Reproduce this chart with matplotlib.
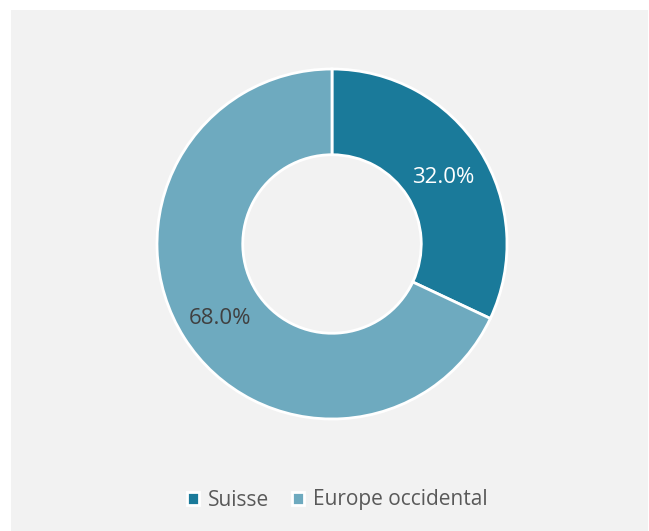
import matplotlib.pyplot as plt
import matplotlib.transforms as mtransforms
from matplotlib.patches import Rectangle

labels = ["Suisse", "Europe occidental"]
values = [32.0, 68.0]
colors = ["#1a7a9a", "#6eaabf"]
pct_colors = ["white", "#404040"]

W, H = 649, 531
fig = plt.figure(figsize=(W / 100, H / 100), dpi=100)
fig.patch.set_facecolor("white")
# panel gris
fig.patches.append(Rectangle((11 / W, 0), (W - 12) / W, (H - 10) / H,
                             transform=fig.transFigure, facecolor="#f2f2f2",
                             edgecolor="none", zorder=-10))

cx, cy, r = 332, 244, 175
ax = fig.add_axes([(cx - r) / W, (H - cy - r) / H, 2 * r / W, 2 * r / H])
ax.set_facecolor("none")
ax.set_zorder(2)

wedges, texts, autotexts = ax.pie(
    values, colors=colors, startangle=90, counterclock=False, radius=1,
    autopct="%.1f%%", pctdistance=0.755,
    wedgeprops=dict(width=0.49, edgecolor="white", linewidth=2),
    textprops=dict(fontsize=16, family="Open Sans"))
shift = mtransforms.ScaledTranslation(0, -4 / 100, fig.dpi_scale_trans)
for t, c in zip(autotexts, pct_colors):
    t.set_color(c)
    t.set_transform(t.get_transform() + shift)
ax.set_xlim(-1, 1)
ax.set_ylim(-1, 1)
ax.set_aspect("equal")

leg = fig.legend(wedges, labels, loc="center", bbox_to_anchor=(337 / W, 1 - 500 / H),
                 ncol=2, frameon=False, handlelength=0.6, handleheight=0.6,
                 handletextpad=0.4, columnspacing=1.1,
                 prop=dict(family="Open Sans", size=15))
leg.set_zorder(3)
for t in leg.get_texts():
    t.set_color("#595959")

fig.savefig("out.png", dpi=100)
